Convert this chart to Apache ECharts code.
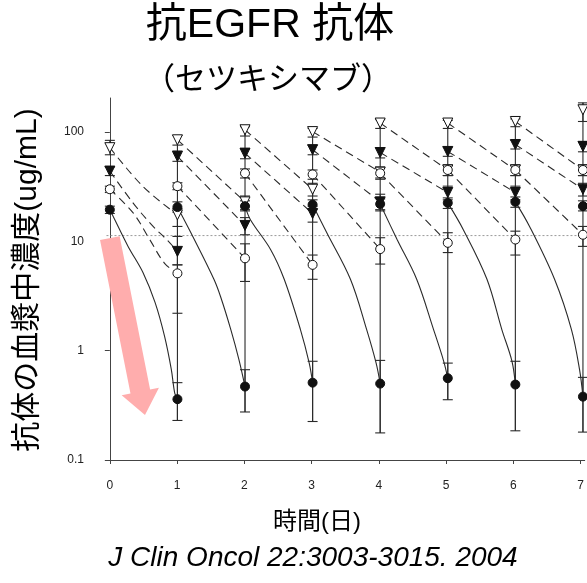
<!DOCTYPE html>
<html>
<head>
<meta charset="utf-8">
<script src="https://cdn.jsdelivr.net/npm/echarts@6/dist/echarts.min.js"></script>
<style>
  html, body { margin: 0; padding: 0; background: #fff; }
  #chart { width: 587px; height: 583px; }
</style>
</head>
<body>
<div id="chart"></div>
<script>
// Sampling days (weekly infusion cycles shown on a day axis)
const days = [0, 1, 2, 3, 4, 5, 6, 7];
const troughDays = [1, 2, 3, 4, 5, 6, 7];
const yTicks = [0.1, 1, 10, 100];

// Post-infusion peak concentrations (ug/mL) per dose group
const peakOpenTri      = [72, 85, 105, 101, 121, 121, 125, 160];
const peakFilledTri    = [44, 60, 64, 69, 65, 66.5, 77, 74];
const peakOpenCircle   = [30, 32, 42, 41, 42, 45, 45, 45];
const peakFilledCircle = [19.5, 20.6, 21, 21.7, 22, 22.5, 23, 21];

// Pre-infusion trough concentrations (ug/mL), days 1..7
const troughOpenTri      = [17.5, 23, 30, 43, 45, 45, 45];
const troughFilledTri    = [8.1, 14, 18, 23, 28, 28, 30];
const troughOpenCircle   = [5.1, 7.0, 6.1, 8.5, 9.7, 10.4, 11.5];
const troughFilledCircle = [0.36, 0.47, 0.51, 0.50, 0.56, 0.49, 0.38];

// Error ranges [low, high] for peaks (days 0..7)
const errPeakOpenTri      = [[62,84],[76,93],[92,112],[90,108],[108,130],[108,128],[112,132],[125,185]];
const errPeakFilledTri    = [[40,48],[54,67],[57,71],[62,76],[58,72],[60,73],[70,84],[66,82]];
const errPeakOpenCircle   = [[28,32],[29.7,34.4],[38,46],[37,45],[37,47],[40,50],[40,50],[40,50]];
const errPeakFilledCircle = [[18,21],[18.5,23],[19,23.5],[19.5,24],[19.5,24.5],[20,25],[20.5,25.5],[19,23.5]];
// Error ranges [low, high] for troughs (days 1..7)
const errTroughOpenTri      = [[13.7,20],[19.5,26],[26,34],[38,48],[40,50],[40,50],[40,50]];
const errTroughFilledTri    = [[6.1,11.1],[11.5,16.5],[15,21],[19,27],[24,32],[24,32],[26,34]];
const errTroughOpenCircle   = [[2.2,6.1],[4.3,9.5],[4.5,7.5],[6.2,10.8],[7.9,12],[7.5,12.4],[9,13.7]];
const errTroughFilledCircle = [[0.23,0.51],[0.275,0.67],[0.225,0.8],[0.177,0.815],[0.356,0.77],[0.185,0.8],[0.18,0.57]];

// Fitted decay curves between a peak and the next trough: intermediate points [day, ug/mL]
const curveOpenTri = [[[0.49,31.8]], [], [], [], [], [], []];
const curveFilledTri = [[[0.345,22.4],[0.64,13.7],[0.84,10.4]], [], [], [], [], [], []];
const curveOpenCircle = [[[0.345,18.2],[0.59,10.4],[0.81,6.3]], [], [], [], [], [], []];
const curveFilledCircle = [
  [[0.05,16.9],[0.27,9.0],[0.49,5.2],[0.67,2.75],[0.81,1.35],[0.91,0.67],[0.96,0.41]],
  [[1.25,10.4],[1.54,4.5],[1.64,3.1],[1.79,1.56],[1.91,0.83]],
  [[2.08,15.8],[2.38,8.4],[2.58,4.5],[2.82,1.56],[2.95,0.77]],
  [[3.21,12],[3.56,4.5],[3.8,1.56],[3.94,0.77]],
  [[4.25,10.4],[4.54,4.5],[4.79,1.56],[4.94,0.8]],
  [[5.23,12.8],[5.58,4.5],[5.8,1.56],[5.95,0.8]],
  [[6.21,13.7],[6.58,4.5],[6.83,1.56],[6.95,0.67]]
];

// Horizontal dotted reference level (ug/mL)
const refLevel = 11.3;
// Pink arrow annotation: tail [day, ug/mL] -> head [day, ug/mL]
const arrowFrom = [0, 10.7];
const arrowTo = [0.52, 0.258];

const X_MIN = -0.19, X_MAX = 7.06;
const INK = '#2a2a2a';
const LATIN = "'Liberation Sans', Arial, 'Noto Sans CJK JP', sans-serif";
const CJK = "'Liberation Sans', 'Noto Sans CJK JP', sans-serif";

const groups = [
  { peaks: peakOpenTri, troughs: troughOpenTri, errP: errPeakOpenTri, errT: errTroughOpenTri,
    curves: curveOpenTri, symbol: 'triangle', rotate: 180, size: 10, fill: '#fff', dashed: true },
  { peaks: peakFilledTri, troughs: troughFilledTri, errP: errPeakFilledTri, errT: errTroughFilledTri,
    curves: curveFilledTri, symbol: 'triangle', rotate: 180, size: 10, fill: '#111', dashed: true },
  { peaks: peakOpenCircle, troughs: troughOpenCircle, errP: errPeakOpenCircle, errT: errTroughOpenCircle,
    curves: curveOpenCircle, symbol: 'circle', rotate: 0, size: 9, fill: '#fff', dashed: true },
  { peaks: peakFilledCircle, troughs: troughFilledCircle, errP: errPeakFilledCircle, errT: errTroughFilledCircle,
    curves: curveFilledCircle, symbol: 'circle', rotate: 0, size: 9, fill: '#111', dashed: false }
];

const series = [];

// Arrow annotation
series.push({
  type: 'custom', xAxisIndex: 0, yAxisIndex: 0, z: 1, silent: true,
  data: [[arrowFrom[0], arrowFrom[1], arrowTo[0], arrowTo[1]]],
  renderItem: function (params, api) {
    const a = api.coord([api.value(0), api.value(1)]);
    const b = api.coord([api.value(2), api.value(3)]);
    const dx = b[0] - a[0], dy = b[1] - a[1];
    const len = Math.sqrt(dx * dx + dy * dy);
    const ux = dx / len, uy = dy / len, nx = -uy, ny = ux;
    const hw = 10, headW = 19, headL = 24;
    const bx = b[0] - ux * headL, by = b[1] - uy * headL;
    const pts = [
      [a[0] + nx * hw, a[1] + ny * hw],
      [bx + nx * hw, by + ny * hw],
      [bx + nx * headW, by + ny * headW],
      [b[0], b[1]],
      [bx - nx * headW, by - ny * headW],
      [bx - nx * hw, by - ny * hw],
      [a[0] - nx * hw, a[1] - ny * hw]
    ];
    return { type: 'polygon', shape: { points: pts }, style: { fill: '#ffadad' } };
  }
});

// Dotted reference line
series.push({
  type: 'line', xAxisIndex: 0, yAxisIndex: 0, z: 2, silent: true, symbol: 'none',
  data: [[-0.05, refLevel], [X_MAX, refLevel]],
  lineStyle: { color: '#9a9a9a', width: 1, type: [2, 2] }
});

// Decay curves, one segment per dosing interval
groups.forEach(function (g) {
  for (let k = 0; k < 7; k++) {
    const pts = [[days[k], g.peaks[k]]].concat(g.curves[k]).concat([[troughDays[k], g.troughs[k]]]);
    series.push({
      type: 'line', xAxisIndex: 0, yAxisIndex: 0, z: 3, silent: true, symbol: 'none',
      smooth: pts.length > 2 ? 0.35 : false,
      data: pts,
      lineStyle: { color: INK, width: 1.1, type: g.dashed ? [8, 5] : 'solid' }
    });
  }
});

// Error bars with caps
const errData = [];
groups.forEach(function (g) {
  g.errP.forEach(function (e, i) { errData.push([days[i], e[0], e[1]]); });
  g.errT.forEach(function (e, i) { errData.push([troughDays[i], e[0], e[1]]); });
});
// Continuous vertical span through all bars on each day after the first
const spanData = troughDays.map(function (d) {
  let lo = Infinity, hi = -Infinity;
  errData.forEach(function (r) { if (r[0] === d) { lo = Math.min(lo, r[1]); hi = Math.max(hi, r[2]); } });
  return [d, lo, hi];
});

series.push({
  type: 'custom', xAxisIndex: 0, yAxisIndex: 0, z: 4, silent: true,
  data: spanData,
  renderItem: function (params, api) {
    const p1 = api.coord([api.value(0), api.value(1)]);
    const p2 = api.coord([api.value(0), api.value(2)]);
    return { type: 'line', shape: { x1: p1[0], y1: p1[1], x2: p2[0], y2: p2[1] },
      style: { stroke: INK, lineWidth: 1.1 } };
  }
});

series.push({
  type: 'custom', xAxisIndex: 0, yAxisIndex: 0, z: 4, silent: true,
  data: errData,
  renderItem: function (params, api) {
    const p1 = api.coord([api.value(0), api.value(1)]);
    const p2 = api.coord([api.value(0), api.value(2)]);
    const w = 5, st = { stroke: INK, lineWidth: 1.1 };
    return { type: 'group', children: [
      { type: 'line', shape: { x1: p1[0], y1: p1[1], x2: p2[0], y2: p2[1] }, style: st },
      { type: 'line', shape: { x1: p1[0] - w, y1: p1[1], x2: p1[0] + w, y2: p1[1] }, style: st },
      { type: 'line', shape: { x1: p2[0] - w, y1: p2[1], x2: p2[0] + w, y2: p2[1] }, style: st }
    ] };
  }
});

// Markers
groups.forEach(function (g) {
  const pts = days.map(function (d, i) { return [d, g.peaks[i]]; })
    .concat(troughDays.map(function (d, i) { return [d, g.troughs[i]]; }));
  series.push({
    type: 'scatter', xAxisIndex: 0, yAxisIndex: 0, z: 6, silent: true,
    symbol: g.symbol, symbolRotate: g.rotate, symbolSize: g.size,
    data: pts,
    itemStyle: { color: g.fill, borderColor: '#111', borderWidth: 1, opacity: 1 }
  });
});

const chart = echarts.init(document.getElementById('chart'), null, { renderer: 'canvas' });
chart.setOption({
  animation: false,
  backgroundColor: '#fff',
  grid: [
    { left: 97, right: 0, top: 98, bottom: 123, containLabel: false },
    { left: 109, right: 0, top: 98, bottom: 123, containLabel: false }
  ],
  xAxis: [
    { type: 'value', gridIndex: 0, min: X_MIN, max: X_MAX, show: false },
    { type: 'value', gridIndex: 1, min: -0.0124, max: X_MAX, offset: 8,
      axisLine: { show: true, lineStyle: { color: '#444', width: 1 } },
      axisTick: { show: true, customValues: days, length: 4, lineStyle: { color: '#444' } },
      axisLabel: { customValues: days, fontSize: 12, color: '#222', margin: 12, fontFamily: LATIN },
      splitLine: { show: false } }
  ],
  yAxis: [
    { type: 'log', gridIndex: 0, logBase: 10, min: 0.1, max: 205,
      axisLine: { show: true, lineStyle: { color: '#444', width: 1 } },
      axisTick: { show: true, customValues: yTicks, length: 5, lineStyle: { color: '#444' } },
      axisLabel: { customValues: yTicks, fontSize: 12, color: '#222', margin: 13, fontFamily: LATIN,
        formatter: function (v) { return String(v); } },
      minorTick: { show: false }, splitLine: { show: false } },
    { type: 'value', gridIndex: 1, show: false, min: 0, max: 1 }
  ],
  graphic: [
    { type: 'text', x: 270, y: 26, silent: true,
      style: { text: '抗EGFR 抗体', font: '41px ' + CJK, fill: '#000', align: 'center', verticalAlign: 'middle' } },
    { type: 'text', x: 268, y: 80, silent: true,
      style: { text: '（セツキシマブ）', font: '31px ' + CJK, fill: '#000', align: 'center', verticalAlign: 'middle' } },
    { type: 'text', x: 28, y: 280, rotation: Math.PI / 2, silent: true,
      style: { text: '抗体の血漿中濃度(ug/mL)', font: '30px ' + CJK, fill: '#000', align: 'center', verticalAlign: 'middle' } },
    { type: 'text', x: 317, y: 522, silent: true,
      style: { text: '時間(日)', font: '24px ' + CJK, fill: '#000', align: 'center', verticalAlign: 'middle' } },
    { type: 'text', x: 313, y: 558, silent: true,
      style: { text: 'J Clin Oncol 22:3003-3015. 2004', font: 'italic 28px ' + LATIN, fill: '#000', align: 'center', verticalAlign: 'middle' } }
  ],
  series: series
});
</script>
</body>
</html>
